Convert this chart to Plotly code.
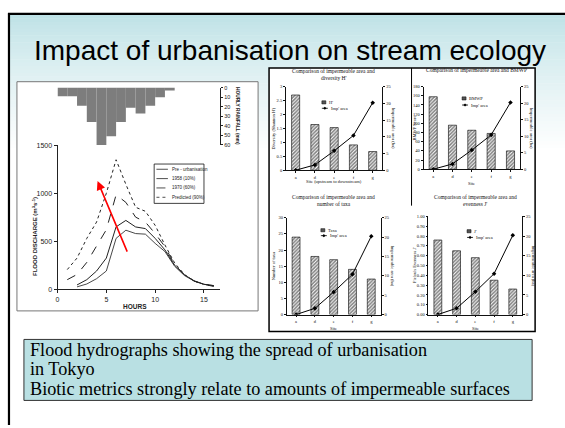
import plotly.graph_objects as go

W, H = 565, 428
def X(px): return px / W
def Y(py): return 1 - py / H

# ---------------- data ----------------
title_text = "Impact of urbanisation on stream ecology"
caption_lines = ["Flood hydrographs showing the spread of urbanisation",
                 "in Tokyo",
                 "Biotic metrics strongly relate to amounts of impermeable surfaces"]

rain_hour = list(range(12))
rain_mm = [9, 9, 19, 36, 60, 51, 36, 21, 27, 19, 10, 3]

q_hours_pre = list(range(2, 17))
q_pre = [25, 55, 110, 190, 530, 615, 580, 574, 478, 393, 239, 143, 85, 51, 38]
q_1958 = [45, 100, 190, 325, 650, 717, 649, 632, 530, 410, 250, 150, 88, 52, 38]
q_hours = list(range(1, 17))
q_1970 = [100, 154, 280, 450, 620, 984, 905, 751, 700, 580, 444, 256, 150, 85, 50, 30]
q_pred = [205, 325, 530, 700, 1000, 1349, 1093, 854, 812, 666, 461, 273, 154, 85, 51, 34]
hydro_names = ["Pre - urbanisation", "1958 (10%)", "1970 (60%)", "Predicted (90%)"]

sites = ['a', 'd', 'e', 'f', 'g']
div_h = [2.7, 1.64, 1.53, 0.91, 0.67]
bmwp = [158, 96, 85, 78, 40]
taxa = [24, 18, 17, 14, 11]
even_j = [0.76, 0.65, 0.58, 0.35, 0.26]
imp_area = [0, 1.6, 5.8, 10.4, 20.2]

fig = go.Figure()
shapes = []
ann = []

def A(text, px, py, size, family, color='#111', xanchor='center', yanchor='middle', **kw):
    ann.append(dict(text=text, x=X(px), y=Y(py), xref='paper', yref='paper', showarrow=False,
                    xanchor=xanchor, yanchor=yanchor,
                    font=dict(family=family, size=size, color=color), **kw))

# ---------------- slide background ----------------
top_c = (190, 226, 230)
n = 40
y0s, y1s = 11, 150
for i in range(n):
    t = i / (n - 1)
    c = tuple(int(top_c[k] + (255 - top_c[k]) * t ** 0.8) for k in range(3))
    ya = y0s + (y1s - y0s) * i / n
    yb = y0s + (y1s - y0s) * (i + 1) / n + 0.5
    shapes.append(dict(type='rect', xref='paper', yref='paper', layer='below',
                       x0=X(8), x1=1, y0=Y(yb), y1=Y(ya),
                       fillcolor='rgb(%d,%d,%d)' % c, line=dict(width=0)))
# slide frame
shapes.append(dict(type='line', xref='paper', yref='paper', x0=X(7), x1=X(7), y0=0, y1=Y(9.5),
                   line=dict(color='black', width=2.2)))
shapes.append(dict(type='line', xref='paper', yref='paper', x0=X(6), x1=1, y0=Y(10), y1=Y(10),
                   line=dict(color='black', width=2.2)))

# hydrograph picture box
shapes.append(dict(type='rect', xref='paper', yref='paper', layer='below',
                   x0=X(15), x1=X(257), y0=Y(312), y1=Y(79),
                   fillcolor='white', line=dict(color='#777', width=1)))
# right panel box
shapes.append(dict(type='rect', xref='paper', yref='paper', layer='below',
                   x0=X(268), x1=X(535), y0=Y(333), y1=Y(65),
                   fillcolor='white', line=dict(color='black', width=1.5)))
shapes.append(dict(type='line', xref='paper', yref='paper', x0=X(411), x1=X(411), y0=Y(205), y1=Y(65),
                   line=dict(color='black', width=1)))
# caption box
shapes.append(dict(type='rect', xref='paper', yref='paper', layer='below',
                   x0=X(22), x1=X(532), y0=Y(403), y1=Y(341),
                   fillcolor='#b9e0e3', line=dict(color='#333', width=1)))

# ---------------- title & caption ----------------
A(title_text, 289, 47, 28, 'Liberation Sans, Arial', color='black')
for i, line in enumerate(caption_lines):
    A(line, 26, 352 + 19.5 * i, 18.2, 'Liberation Serif, Times New Roman', color='black',
      xanchor='left')

# ---------------- hydrograph ----------------
hx0, hx1 = 55.7, 219.0
hours_span = (hx1 - hx0) / 9.8
line_styles = [dict(color='#333', width=0.9, dash='solid'),
               dict(color='#222', width=1.0, dash='solid'),
               dict(color='#222', width=1.0, dash='dash'),
               dict(color='#222', width=1.0, dash='dot')]
series = [(q_hours_pre, q_pre), (q_hours_pre, q_1958), (q_hours, q_1970), (q_hours, q_pred)]
for (hx, hy), st, nm in zip(series, line_styles, hydro_names):
    fig.add_trace(go.Scatter(x=hx, y=hy, mode='lines', line=st, name=nm, showlegend=False,
                             xaxis='x', yaxis='y'))

fig.add_trace(go.Bar(x=[h + 0.5 for h in rain_hour], y=rain_mm, width=1, xaxis='x2', yaxis='y2',
                     marker=dict(color='#7d7d7d', line=dict(width=0)), showlegend=False))

sans = 'Liberation Sans, Arial'
layout_axes = dict(
    xaxis=dict(domain=[X(hx0), X(hx1)], range=[0, hours_span], anchor='y',
               tickvals=[0, 5, 10, 15], showline=True, linecolor='#222', linewidth=1,
               ticks='outside', ticklen=3, tickcolor='#222', showgrid=False, zeroline=False,
               tickfont=dict(family=sans, size=7, color='#222')),
    yaxis=dict(domain=[Y(290), Y(143.6)], range=[0, 1500], anchor='x',
               tickvals=[0, 500, 1000, 1500], showline=True, linecolor='#222', linewidth=1,
               ticks='outside', ticklen=3, tickcolor='#222', showgrid=False, zeroline=False,
               tickfont=dict(family=sans, size=7, color='#222')),
    xaxis2=dict(domain=[X(hx0), X(hx1)], range=[0, hours_span], anchor='y2', visible=False),
    yaxis2=dict(domain=[Y(143.3), Y(85)], range=[60, 0], anchor='x2', side='right',
                tickvals=[0, 10, 20, 30, 40, 50, 60], showline=True, linecolor='#222', linewidth=1,
                ticks='outside', ticklen=2, tickcolor='#222', showgrid=False, zeroline=False,
                tickfont=dict(family=sans, size=5.5, color='#222')),
)

A('<b>FLOOD DISCHARGE (m<sup>3</sup>s<sup>-1</sup>)</b>', 33, 236, 6, sans, color='#222', textangle=-90)
A('<b>HOURS</b>', 133, 307.5, 6.5, sans, color='#222')
A('<b>HOURLY RAINFALL (mm)</b>', 237, 114, 4.8, sans, color='#222', textangle=90)
# red arrow
ann.append(dict(x=4.1, y=1127, ax=7.2, ay=376, xref='x', yref='y', axref='x', ayref='y',
                text='', showarrow=True, arrowhead=2, arrowsize=1.1, arrowwidth=1.6,
                arrowcolor='red'))
# hydrograph legend
shapes.append(dict(type='rect', xref='paper', yref='paper', x0=X(152.7), x1=X(202.7),
                   y0=Y(202.7), y1=Y(162.7), fillcolor='white', line=dict(color='#111', width=0.8)))
for i, (nm, st) in enumerate(zip(hydro_names, line_styles)):
    yy = 168 + 9.5 * i
    shapes.append(dict(type='line', xref='paper', yref='paper', x0=X(155), x1=X(166.5),
                       y0=Y(yy), y1=Y(yy), line=dict(color='#222', width=0.8, dash=st['dash'])))
    A(nm, 169, yy, 4.5, sans, color='#222', xanchor='left')

# ---------------- four bar charts ----------------
serif = 'Liberation Serif, Times New Roman'
charts = [
    dict(vals=div_h, name="H'", rng=[0, 3], dtick=0.5, fmt='', box=(285, 381.7, 84, 169),
         title=["Comparison of impermeable area and", "diversity H'"], ty=68, tx=333,
         ytitle="Diversity (Shannon H')", xtitle="Site (upstream to downstream)", xt_y=180,
         lyt=272, ryt=393, leg=(321, 100, 106)),
    dict(vals=bmwp, name="BMWP", rng=[0, 180], dtick=20, fmt='', box=(423, 520, 84, 168),
         title=["Comparison of impermeable area and BMWP"], ty=67.5, tx=476,
         ytitle="BMWP Score", xtitle="Site", xt_y=182, lyt=414, ryt=531, leg=(461.7, 96, 102.7)),
    dict(vals=taxa, name="Taxa", rng=[0, 30], dtick=5, fmt='', box=(285.7, 380, 217.3, 315.7),
         title=["Comparison of impermeable area and", "number of taxa"], ty=196, tx=333,
         ytitle="Number of taxa", xtitle="Site", xt_y=330, lyt=272, ryt=392, leg=(320, 230, 235.5)),
    dict(vals=even_j, name="J'", rng=[0, 1.0], dtick=0.1, fmt='.2f', box=(428, 522, 216, 315.7),
         title=["Comparison of impermeable area and", "evenness J'"], ty=196, tx=475,
         ytitle="Pielou's Evenness J'", xtitle="Site", xt_y=330, lyt=414, ryt=533, leg=(466.7, 231, 237.3)),
]

for k, c in enumerate(charts):
    xa = 3 + k
    ly = 3 + 2 * k
    ry = 4 + 2 * k
    x0, x1, yt, yb = c['box']
    fig.add_trace(go.Bar(x=sites, y=c['vals'], width=0.42, name=c['name'], showlegend=False,
                         xaxis='x%d' % xa, yaxis='y%d' % ly,
                         marker=dict(color='white', line=dict(color='black', width=0.6),
                                     pattern=dict(shape='/', fgcolor='black', bgcolor='white',
                                                  size=2.5, solidity=0.6))))
    fig.add_trace(go.Scatter(x=sites, y=imp_area, mode='lines+markers', name="Imp' area",
                             showlegend=False, xaxis='x%d' % xa, yaxis='y%d' % ry,
                             line=dict(color='black', width=1),
                             marker=dict(symbol='diamond', size=3.5, color='black')))
    tf = dict(family=serif, size=4.5, color='#111')
    layout_axes['xaxis%d' % xa] = dict(domain=[X(x0), X(x1)], anchor='y%d' % ly, type='category',
                                       showline=True, linecolor='#111', linewidth=0.8,
                                       ticks='outside', ticklen=2, tickcolor='#111',
                                       showgrid=False, tickfont=tf)
    layout_axes['yaxis%d' % ly] = dict(domain=[Y(yb), Y(yt)], anchor='x%d' % xa, range=c['rng'],
                                       dtick=c['dtick'], tickformat=c['fmt'], showline=True,
                                       linecolor='#111', linewidth=0.8, ticks='outside', ticklen=2,
                                       tickcolor='#111', showgrid=False, zeroline=False, tickfont=tf)
    layout_axes['yaxis%d' % ry] = dict(overlaying='y%d' % ly, anchor='x%d' % xa, side='right',
                                       range=[0, 25], dtick=5, showline=True, linecolor='#111',
                                       linewidth=0.8, ticks='outside', ticklen=2, tickcolor='#111',
                                       showgrid=False, zeroline=False, tickfont=tf)
    cx = (x0 + x1) / 2
    for i, tline in enumerate(c['title']):
        A(tline, c['tx'], c['ty'] + 7 * i, 5.5, serif)
    A(c['xtitle'], cx, c['xt_y'], 4.5, serif)
    A(c['ytitle'], c['lyt'], (yt + yb) / 2, 4.5, serif, textangle=-90)
    A("Impermeable area (ha)", c['ryt'], (yt + yb) / 2, 4.5, serif, textangle=90)
    lx, lr1, lr2 = c['leg']
    shapes.append(dict(type='rect', xref='paper', yref='paper', x0=X(lx), x1=X(lx + 4),
                       y0=Y(lr1 + 1.6), y1=Y(lr1 - 1.6), fillcolor='#555',
                       line=dict(color='black', width=0.5)))
    A(c['name'], lx + 5, lr1, 4.5, serif, xanchor='left')
    shapes.append(dict(type='line', xref='paper', yref='paper', x0=X(lx), x1=X(lx + 6),
                       y0=Y(lr2), y1=Y(lr2), line=dict(color='black', width=0.8)))
    dx, dy = 1.6, 1.6
    mx = lx + 3
    shapes.append(dict(type='path', xref='paper', yref='paper',
                       path='M %f %f L %f %f L %f %f L %f %f Z' % (
                           X(mx - dx), Y(lr2), X(mx), Y(lr2 - dy), X(mx + dx), Y(lr2), X(mx), Y(lr2 + dy)),
                       fillcolor='black', line=dict(width=0)))
    A("Imp' area", lx + 7, lr2, 4.5, serif, xanchor='left')

fig.update_layout(width=W, height=H, margin=dict(l=0, r=0, t=0, b=0),
                  paper_bgcolor='white', plot_bgcolor='rgba(0,0,0,0)',
                  showlegend=False, shapes=shapes, annotations=ann, barmode='overlay',
                  **layout_axes)

fig.write_html("out.html", config={'displayModeBar': False},
               post_script="document.body.style.margin='0px';document.body.style.padding='0px';")
